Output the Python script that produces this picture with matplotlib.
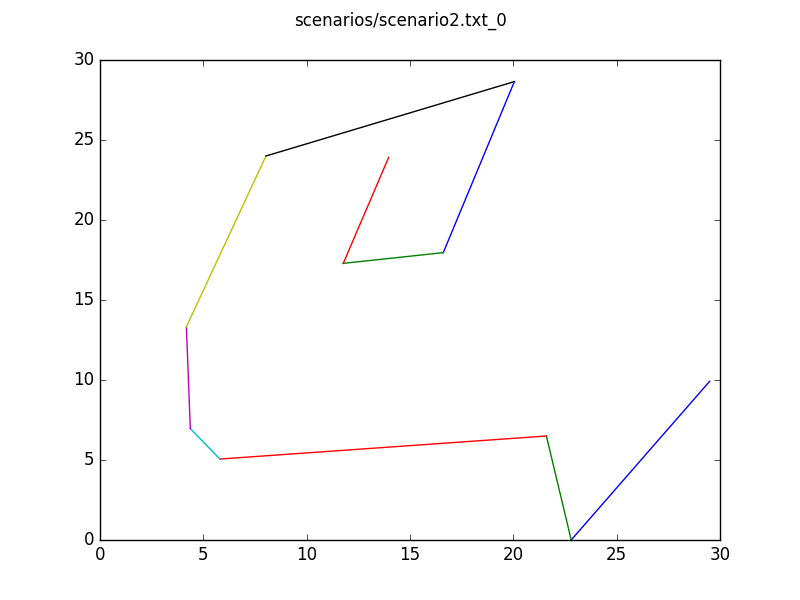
import matplotlib
matplotlib.use('Agg')
import matplotlib.pyplot as plt

plt.style.use('classic')

# path points, each segment drawn separately so colours cycle
xs = [29.5, 22.8, 21.6, 5.8, 4.37, 4.18, 8.03, 20.05, 16.61, 11.77, 13.97]
ys = [9.92, 0.0, 6.5, 5.06, 6.96, 13.33, 24.0, 28.65, 17.96, 17.29, 23.92]

fig = plt.figure(figsize=(8, 6), dpi=100)
fig.suptitle('scenarios/scenario2.txt_0')
ax = fig.add_subplot(111)

for i in range(len(xs) - 1):
    ax.plot(xs[i:i+2], ys[i:i+2])

ax.set_xlim(0, 30)
ax.set_ylim(0, 30)

fig.savefig('out.png', dpi=100)
